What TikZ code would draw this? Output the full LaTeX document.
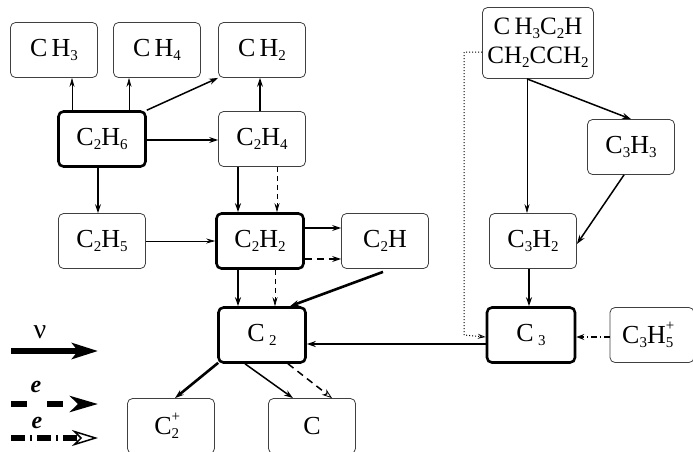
\documentclass[tikz,border=0pt]{standalone}
\usepackage{fontspec}
\setmainfont{Liberation Serif}
\usetikzlibrary{arrows.meta}
\newcommand\sbs[1]{\raisebox{-0.35ex}{\fontsize{15}{15}\selectfont #1}}
\newcommand\sbsp[2]{\rlap{\raisebox{-0.35ex}{\fontsize{15}{15}\selectfont #1}}\raisebox{1.1ex}{\fontsize{15}{15}\selectfont #2}}
\tikzset{
  box/.style={draw=black!75, rounded corners=5pt, minimum width=87pt, minimum height=55pt,
    line width=0.8pt, inner sep=0pt, font=\fontsize{26}{28}\selectfont},
  hbox/.style={box, draw=black, line width=2.6pt},
  thinarr/.style={line width=0.7pt, -{Stealth[length=9pt,width=5pt,inset=3pt]}},
  medarr/.style={line width=1.5pt, -{Stealth[length=9pt,width=6pt,inset=3pt]}},
  thickarr/.style={line width=2.6pt, -{Stealth[length=9pt,width=6pt,inset=3pt]}},
  thindash/.style={thinarr, dash pattern=on 5pt off 4pt},
  thickdash/.style={line width=2.6pt, dash pattern=on 7pt off 5pt, -{Stealth[length=9pt,width=6pt,inset=3pt]}},
  meddashopen/.style={line width=1.5pt, dash pattern=on 7pt off 5pt, -{Stealth[open,length=10pt,width=7pt,inset=3pt,line width=0.8pt]}},
  dotarr/.style={line width=1pt, dotted, -{Stealth[open,length=8pt,width=5pt,inset=3pt,line width=0.7pt]}},
  dasharr/.style={line width=2pt, dash pattern=on 6pt off 3pt on 1pt off 3pt, -{Stealth[length=8pt,width=6pt,inset=3pt]}},
  lbl/.style={font=\fontsize{28}{30}\selectfont},
  elbl/.style={font=\fontsize{24}{26}\selectfont\bfseries\itshape},
}
\begin{document}
\begin{tikzpicture}[x=1pt,y=-1pt]
\useasboundingbox (0,0) rectangle (693,451);
% nodes
\node[box] (ch3) at (54,50) {C\,H\sbs{3}};
\node[box] (ch4) at (157,50) {C\,H\sbs{4}};
\node[box] (ch2) at (262,50) {C\,H\sbs{2}};
\node[hbox] (c2h6) at (102,139) {C\sbs{2}H\sbs{6}};
\node[box] (c2h4) at (262,139) {C\sbs{2}H\sbs{4}};
\node[box] (c2h5) at (102,241) {C\sbs{2}H\sbs{5}};
\node[hbox] (c2h2) at (260,241) {C\sbs{2}H\sbs{2}};
\node[box] (c2h) at (385,241) {C\sbs{2}H};
\node[hbox] (c2) at (262,335) {C\,\sbs{2}};
\node[box] (c2p) at (171,426) {C\sbsp{2}{+}\hphantom{\fontsize{15}{15}\selectfont 2}};
\node[box] (c) at (312,426) {C};
\node[box, minimum width=111pt, minimum height=71pt, align=center, font=\fontsize{25}{29}\selectfont] (top) at (538,43) {C\,H\sbs{3}C\sbs{2}H\\CH\sbs{2}CCH\sbs{2}};
\node[box] (c3h3) at (631,147) {C\sbs{3}H\sbs{3}};
\node[box] (c3h2) at (533,241) {C\sbs{3}H\sbs{2}};
\node[hbox, minimum width=88pt] (c3) at (531,335) {C\,\sbs{3}};
\node[box, minimum width=84pt] (c3h5) at (652,335) {C\sbs{3}H\sbsp{5}{+}\hphantom{\fontsize{15}{15}\selectfont 5}};
% edges
\draw[thinarr] ([xshift=-30pt]c2h6.north) -- ([xshift=-30pt]c2h6.north |- ch3.south);
\draw[thinarr] ([xshift=27pt]c2h6.north) -- ([xshift=27pt]c2h6.north |- ch4.south);
\draw[medarr] (c2h6.north east) -- (ch2.south west);
\draw[thickarr] ([xshift=-2pt]c2h4.north) -- ([xshift=-2pt]ch2.south);
\draw[thickarr] ([yshift=-1pt]c2h6.east) -- ([yshift=-1pt]c2h4.west);
\draw[thickarr] ([xshift=-4pt]c2h6.south) -- ([xshift=-4pt]c2h5.north);
\draw[medarr] ([xshift=-24pt]c2h4.south) -- ([xshift=-24pt]c2h4.south |- c2h2.north);
\draw[thindash] ([xshift=15pt]c2h4.south) -- ([xshift=15pt]c2h4.south |- c2h2.north);
\draw[thinarr] (c2h5.east) -- (c2h2.west);
\draw[thickarr] ([yshift=13pt]c2h2.east) -- ([yshift=13pt]c2h.west);
\draw[thickdash] ([yshift=-18pt]c2h2.east) -- ([yshift=-18pt]c2h.west);
\draw[medarr] ([xshift=-22pt]c2h2.south) -- ([xshift=-22pt]c2h2.south |- c2.north);
\draw[thindash] ([xshift=15pt]c2h2.south) -- ([xshift=15pt]c2h2.south |- c2.north);
\draw[thickarr] ([xshift=-2pt,yshift=-3pt]c2h.south) -- ([xshift=28pt]c2.north);
\draw[medarr] ([yshift=-9pt]c3.west) -- ([yshift=-9pt]c2.east);
\draw[thickarr] ([xshift=1pt,yshift=1pt]c2.south west) -- ([xshift=4pt]c2p.north);
\draw[medarr] ([xshift=-17pt]c2.south) -- ([xshift=-19pt]c.north);
\draw[meddashopen] ([xshift=26pt]c2.south) -- ([xshift=20pt]c.north);
\coordinate (d1) at ([xshift=-18pt,yshift=-9pt]top.west);
\draw[dotarr] ([yshift=-9pt]top.west) -- (d1) -- (d1 |- c3.west) -- ([yshift=-2pt]c3.west);
\draw[thinarr] ([xshift=-11pt]top.south) -- ([xshift=-11pt]top.south |- c3h2.north);
\draw[medarr] ([xshift=-11pt]top.south) -- (c3h3.north);
\draw[medarr] ([xshift=-7pt]c3h3.south) -- ([yshift=-3pt]c3h2.east);
\draw[medarr] ([xshift=-4pt]c3h2.south) -- ([xshift=-2pt]c3.north);
\draw[dasharr] ([yshift=-2pt]c3h5.west) -- ([yshift=-2pt]c3.west -| c3.east);
% legend
\coordinate (la) at (11,351); \coordinate (lb) at (98,351);
\draw[line width=6pt, -{Stealth[length=26pt,width=16pt,inset=6pt]}] (la) -- (lb);
\node[lbl] (nu) at (40,332) {ν};
\coordinate (ma) at (11,404); \coordinate (mb) at (98,404);
\draw[line width=6pt, dash pattern=on 16pt off 20pt, -{Stealth[length=28pt,width=16pt,inset=8pt]}] (ma) -- (mb);
\node[elbl] (e1) at (36,387) {e};
\coordinate (na) at (11,438); \coordinate (nb) at (98,438);
\draw[line width=6pt, dash pattern=on 14pt off 5pt on 2pt off 5pt, -{Stealth[open,length=26pt,width=16pt,inset=8pt,line width=1.5pt]}] (na) -- (nb);
\node[elbl] (e2) at (37,423) {e};
\end{tikzpicture}
\end{document}
